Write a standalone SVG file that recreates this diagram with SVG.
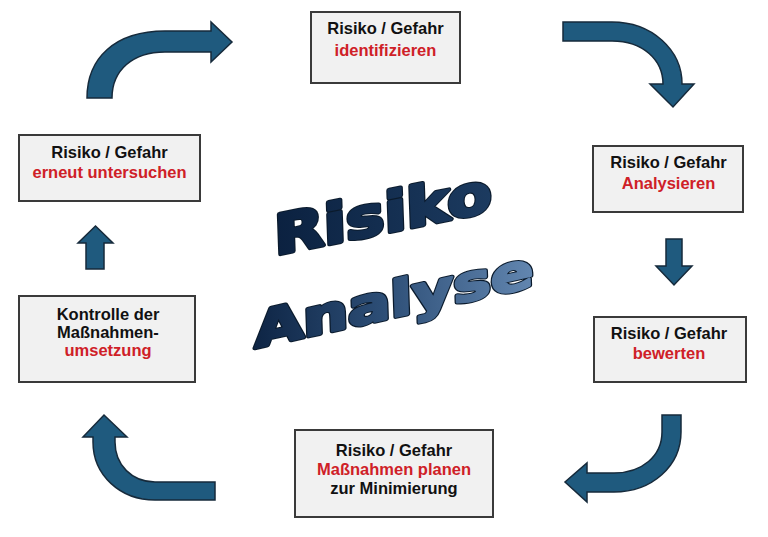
<svg xmlns="http://www.w3.org/2000/svg" width="768" height="537" viewBox="0 0 768 537">
<defs>
<style>
.box{fill:#f1f1f1;stroke:#3a3a3a;stroke-width:2}
.t{font-family:"Liberation Sans",Arial,sans-serif;font-weight:bold;font-size:16.5px;text-anchor:middle;fill:#111}
.r{fill:#cf2027}
.arr{fill:#1f5a7e;stroke:#162a3b;stroke-width:1.5;stroke-linejoin:miter}
.big{font-family:"DejaVu Sans","Liberation Sans",sans-serif;font-weight:bold;stroke-linejoin:round}
.edge{fill:#0a1a2c;stroke:#0a1a2c;stroke-width:4.6}
</style>
<linearGradient id="gR" gradientUnits="userSpaceOnUse" x1="0" y1="0" x2="187" y2="0">
<stop offset="0" stop-color="#0b2140"/>
<stop offset="1" stop-color="#1c3b60"/>
</linearGradient>
<linearGradient id="gA" gradientUnits="userSpaceOnUse" x1="0" y1="0" x2="221" y2="0">
<stop offset="0" stop-color="#0e2545"/>
<stop offset="0.45" stop-color="#2c4d75"/>
<stop offset="1" stop-color="#6286b0"/>
</linearGradient>
<text id="wR" class="big" font-size="55" x="0" y="0">Risiko</text>
<text id="wA" class="big" font-size="50" x="0" y="0">Analyse</text>
</defs>
<rect width="768" height="537" fill="#ffffff"/>

<g id="connectors">
<path class="arr" d="M87,98 C87,58 115,31 165,31 L211,31 L211,22 L232,42 L211,62 L211,52 L165,52 C133,52 112,70 112,98 Z"/>
<path class="arr" d="M563,22 L612,22 C652,22 682,50 682,84 L694,84 L673,107 L650,84 L663,84 C663,60 643,41 612,41 L563,41 Z"/>
<path class="arr" d="M666,239 L682,239 L682,266 L692,266 L674,285 L656,266 L666,266 Z"/>
<path class="arr" d="M662,415 L681,415 L681,432 C681,466 652,492 614,492 L587,492 L587,502 L565,482 L587,463 L587,473 L614,473 C642,473 662,456 662,432 Z"/>
<path class="arr" d="M215,482 L215,500 L155,500 C120,500 93,475 93,442 L93,437 L83,437 L104,415 L127,437 L115,437 L115,442 C115,465 132,482 155,482 Z"/>
<path class="arr" d="M86,269 L86,243 L78,243 L95.5,226 L113,243 L104,243 L104,269 Z"/>
</g>

<g id="node-identifizieren">
<rect class="box" x="311" y="12" width="149" height="71"/>
<text class="t" x="385.5" y="34">Risiko / Gefahr</text>
<text class="t r" x="385.5" y="56">identifizieren</text>
</g>

<g id="node-analysieren">
<rect class="box" x="593" y="146" width="150" height="66"/>
<text class="t" x="668.5" y="168">Risiko / Gefahr</text>
<text class="t r" x="668.5" y="189">Analysieren</text>
</g>

<g id="node-bewerten">
<rect class="box" x="594" y="317" width="152" height="65"/>
<text class="t" x="669" y="339">Risiko / Gefahr</text>
<text class="t r" x="669" y="359">bewerten</text>
</g>

<g id="node-planen">
<rect class="box" x="295" y="430" width="198" height="87"/>
<text class="t" x="394" y="456">Risiko / Gefahr</text>
<text class="t r" x="394" y="475">Maßnahmen planen</text>
<text class="t" x="394" y="494">zur Minimierung</text>
</g>

<g id="node-kontrolle">
<rect class="box" x="19" y="296" width="176" height="86"/>
<text class="t" x="108" y="320">Kontrolle der</text>
<text class="t" x="108" y="338">Maßnahmen-</text>
<text class="t r" x="108" y="356">umsetzung</text>
</g>

<g id="node-erneut">
<rect class="box" x="19" y="135" width="181" height="66"/>
<text class="t" x="109.5" y="158">Risiko / Gefahr</text>
<text class="t r" x="109.5" y="178">erneut untersuchen</text>
</g>

<g id="title">
<g transform="translate(275,255) skewY(-11.5) skewX(2) scale(1.17,1)">
<use href="#wR" class="edge"/>
<use href="#wR" fill="url(#gR)" stroke="url(#gR)" stroke-width="2.6"/>
</g>
<g transform="translate(255,348) skewY(-12.5) skewX(2) scale(1.26,1)">
<use href="#wA" class="edge"/>
<use href="#wA" fill="url(#gA)" stroke="url(#gA)" stroke-width="2.6"/>
</g>
</g>
</svg>
